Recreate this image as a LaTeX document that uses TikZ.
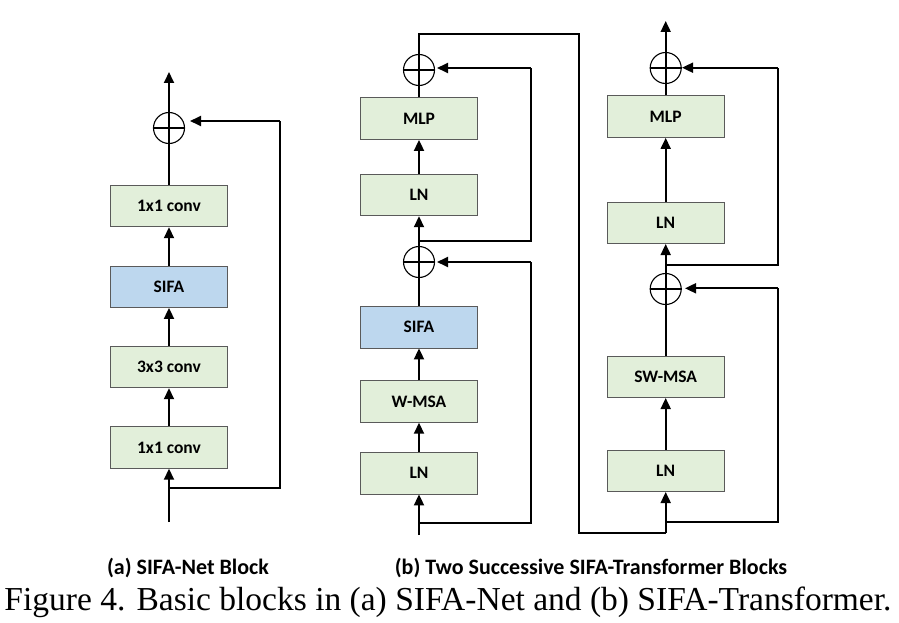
\documentclass[tikz,border=0pt]{standalone}
\usepackage{fontspec}
\setmainfont{Liberation Serif}
\newfontfamily\calib{Carlito}
\usetikzlibrary{arrows.meta}
\definecolor{boxgreen}{HTML}{E2EFDA}
\definecolor{boxblue}{HTML}{BDD7EE}
\definecolor{boxedge}{HTML}{5A5A5A}
\begin{document}
\begin{tikzpicture}[x=1pt,y=-1pt,
  blk/.style={draw=boxedge,line width=0.9pt,fill=boxgreen,minimum width=117pt,minimum height=41.5pt,inner sep=0pt,font=\calib\bfseries\fontsize{17.5}{19}\selectfont},
  sblk/.style={blk,fill=boxblue},
  addc/.style={draw,circle,line width=1.1pt,minimum size=31pt,inner sep=0pt},
  ln/.style={line width=1.8pt},
  arr/.style={ln,-{Triangle[length=11pt,width=10pt]}},
  lab/.style={font=\calib\bfseries\fontsize{22}{24}\selectfont}]
\useasboundingbox (0,0) rectangle (899,623);
% ---------------- (a)
\node[blk]  (a1) at (169,447.5) {1x1 conv};
\node[blk]  (a2) at (169,367) {3x3 conv};
\node[sblk] (a3) at (169,286.7) {SIFA};
\node[blk]  (a4) at (169,206) {1x1 conv};
\node[addc] (ac) at (169,128) {};
\draw[line width=1.1pt] (ac.west) -- (ac.east);
\coordinate (ain) at (169,522);
\coordinate (abr) at (169,488.3);
\coordinate (ar1) at (280,488.3);
\coordinate (ar2) at (280,121);
\coordinate (atip) at (190,121);
\coordinate (atop) at (169,72);
\draw[arr] (ain) -- (a1.south);
\draw[ln] (abr) -- (ar1) -- (ar2);
\draw[arr] (ar2) -- (atip);
\draw[arr] (a1) -- (a2);
\draw[arr] (a2) -- (a3);
\draw[arr] (a3) -- (a4);
\draw[ln] (a4) -- (ac.south);
\draw[ln] (ac.south) -- (ac.north);
\draw[arr] (ac.north) -- (atop);
% ---------------- (b) first block
\node[blk]  (b1) at (419,473.2) {LN};
\node[blk]  (b2) at (419,401.5) {W-MSA};
\node[sblk] (b3) at (419,327.2) {SIFA};
\node[addc] (bc1) at (419,262) {};
\node[blk]  (b4) at (419,195) {LN};
\node[blk]  (b5) at (419,118.7) {MLP};
\node[addc] (bc2) at (419,70) {};
\draw[line width=1.1pt] (bc1.west) -- (bc1.east);
\draw[line width=1.1pt] (bc2.west) -- (bc2.east);
\coordinate (bin) at (419,535);
\coordinate (bbr1) at (419,522.7);
\coordinate (bq1) at (530.7,522.7);
\coordinate (bq2) at (530.7,262);
\coordinate (btip1) at (437,262);
\coordinate (bbr2) at (419,240.7);
\coordinate (bq3) at (530.7,240.7);
\coordinate (bq4) at (530.7,68);
\coordinate (btip2) at (437,68);
\coordinate (bt1) at (419,34);
\coordinate (bt2) at (579,34);
\coordinate (bt3) at (579,533);
\coordinate (bt4) at (665.7,533);
\draw[arr] (bin) -- (b1.south);
\draw[ln] (bbr1) -- (bq1) -- (bq2);
\draw[arr] (bq2) -- (btip1);
\draw[arr] (b1) -- (b2);
\draw[arr] (b2) -- (b3);
\draw[ln] (b3) -- (bc1.south);
\draw[ln] (bc1.south) -- (bc1.north);
\draw[arr] (bc1.north) -- (b4.south);
\draw[ln] (bbr2) -- (bq3) -- (bq4);
\draw[arr] (bq4) -- (btip2);
\draw[arr] (b4) -- (b5);
\draw[ln] (b5) -- (bc2.south);
\draw[ln] (bc2.south) -- (bc2.north) -- (bt1) -- (bt2) -- (bt3) -- (bt4);
% ---------------- (b) second block
\node[blk]  (c1) at (665.7,470.8) {LN};
\node[blk]  (c2) at (665.7,376.8) {SW-MSA};
\node[addc] (cc1) at (665.7,289) {};
\node[blk]  (c3) at (665.7,222.8) {LN};
\node[blk]  (c4) at (665.7,116.7) {MLP};
\node[addc] (cc2) at (665.7,68) {};
\draw[line width=1.1pt] (cc1.west) -- (cc1.east);
\draw[line width=1.1pt] (cc2.west) -- (cc2.east);
\coordinate (cbr1) at (665.7,522.3);
\coordinate (cq1) at (778.3,522.3);
\coordinate (cq2) at (778.3,288.3);
\coordinate (ctip1) at (685,288.3);
\coordinate (cbr2) at (665.7,265);
\coordinate (cq3) at (778.3,265);
\coordinate (cq4) at (778.3,67.7);
\coordinate (ctip2) at (682,67.7);
\coordinate (ctop) at (665.7,21);
\draw[arr] (bt4) -- (c1.south);
\draw[ln] (cbr1) -- (cq1) -- (cq2);
\draw[arr] (cq2) -- (ctip1);
\draw[arr] (c1) -- (c2);
\draw[ln] (c2) -- (cc1.south);
\draw[ln] (cc1.south) -- (cc1.north);
\draw[arr] (cc1.north) -- (c3.south);
\draw[ln] (cbr2) -- (cq3) -- (cq4);
\draw[arr] (cq4) -- (ctip2);
\draw[arr] (c3) -- (c4);
\draw[ln] (c4) -- (cc2.south);
\draw[ln] (cc2.south) -- (cc2.north);
\draw[arr] (cc2.north) -- (ctop);
% ---------------- captions
\node[lab] (la) at (188,568) {(a) SIFA-Net Block};
\node[lab] (lb) at (591,568) {(b) Two Successive SIFA-Transformer Blocks};
\node[font=\fontsize{33.5}{36}\selectfont] (cap) at (448,602) {Figure 4. Basic blocks in (a) SIFA-Net and (b) SIFA-Transformer.};
\end{tikzpicture}
\end{document}
